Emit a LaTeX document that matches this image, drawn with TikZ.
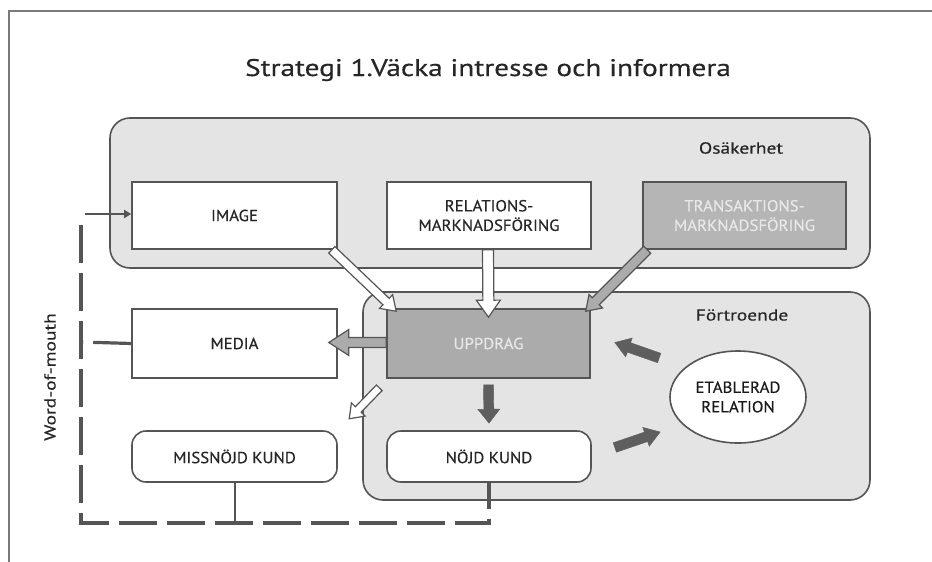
\documentclass[tikz,border=0pt]{standalone}
\usepackage{fontspec}
\setmainfont{PT Sans}
\newfontfamily\widefont{PT Sans}[FakeStretch=1.22, FakeBold=0.4]
\newfontfamily\capsfont{PT Sans}[FakeStretch=1.05, FakeBold=0.4]
\usetikzlibrary{calc,shapes.geometric,arrows.meta}

\definecolor{framegray}{HTML}{7A7A7A}
\definecolor{zonefill}{HTML}{E4E4E4}
\definecolor{linegray}{HTML}{555555}
\definecolor{darkfill}{HTML}{ABABAB}
\definecolor{palefont}{HTML}{E8E8E8}
\definecolor{arrowdark}{HTML}{5E5E5E}
\definecolor{textgray}{HTML}{262626}

% block arrow: style, tail, tip, half shaft width, half head width, head length
\newcommand\fatarrow[6]{%
  \coordinate (fahead) at ($(#3)!#6!(#2)$);
  \filldraw[#1] ($(#2)!#4!90:(#3)$) -- ($(fahead)!#4!-90:(#2)$)
    -- ($(fahead)!#5!-90:(#2)$) -- (#3) -- ($(fahead)!#5!90:(#2)$)
    -- ($(fahead)!#4!90:(#2)$) -- ($(#2)!#4!-90:(#3)$) -- cycle;
}

\begin{document}
\begin{tikzpicture}[x=1pt,y=-1pt,
  every node/.style={font=\capsfont\fontsize{16}{19.5}\selectfont, text=textgray},
  lower/.style={font=\widefont\fontsize{16}{19}\selectfont},
  zone/.style={draw=linegray, line width=1.6pt, fill=zonefill, rounded corners=20pt, inner sep=0pt},
  box/.style={draw=linegray, line width=1.6pt, fill=white, inner sep=0pt, align=center},
  darkbox/.style={box, fill=darkfill, text=palefont},
  roundbox/.style={box, rounded corners=14pt},
  whitearrow/.style={fill=white, draw=linegray, line width=1.2pt, line join=miter},
  grayarrow/.style={fill=darkfill, draw=linegray, line width=1.2pt, line join=miter},
  darkarrow/.style={fill=arrowdark, draw=arrowdark, line width=0.4pt},
  wom/.style={draw=linegray, line width=3.2pt},
  womdash/.style={wom, dash pattern=on 38pt off 10pt},
]
\useasboundingbox (0,0) rectangle (932,562);

% partial frame
\draw[framegray, line width=1.6pt] (932,11) -- (9,11) -- (9,562);

% title
\node[font=\widefont\fontsize{24}{28}\selectfont] (title) at (488,70) {Strategi 1.Väcka intresse och informera};

% the two zones
\node[zone, minimum width=760pt, minimum height=150pt] (osak) at (490,193) {};
\node[zone, minimum width=507pt, minimum height=208pt] (fort) at (616.5,396) {};
\node[lower] (osaklbl) at (741,148) {Osäkerhet};
\node[lower] (fortlbl) at (742,315) {Förtroende};

% boxes
\node[box, minimum width=205pt, minimum height=67pt] (image) at (234.5,215.5) {IMAGE};
\node[box, minimum width=204pt, minimum height=67pt] (rel) at (489,215.5) {RELATIONS-\\MARKNADSFÖRING};
\node[darkbox, fill=darkfill!88!white, minimum width=203pt, minimum height=67pt] (trans) at (744.5,215.5) {TRANSAKTIONS-\\MARKNADSFÖRING};
\node[darkbox, minimum width=203pt, minimum height=69pt] (uppdrag) at (488.5,343.5) {UPPDRAG};
\node[box, minimum width=205pt, minimum height=69pt] (media) at (234.5,343.5) {MEDIA};
\node[roundbox, minimum width=205pt, minimum height=51pt] (missnojd) at (234.5,456.5) {MISSNÖJD KUND};
\node[roundbox, minimum width=204pt, minimum height=51pt] (nojd) at (489,456.5) {NÖJD KUND};
\node[ellipse, draw=linegray, line width=1.6pt, fill=white, minimum width=136pt, minimum height=92pt, inner sep=0pt, align=center, text=black!90] (etab) at (738,397) {ETABLERAD\\RELATION};

% arrow end points
\coordinate (imgT) at ($(image.south east)+(-6,0)$);
\coordinate (imgH) at ($(uppdrag.north west)+(10,3)$);
\coordinate (relT) at ($(rel.south)+(-1,0)$);
\coordinate (relH) at ($(uppdrag.north)+(0,9)$);
\coordinate (trT) at ($(trans.south west)+(5,0)$);
\coordinate (trH) at ($(uppdrag.north east)+(-5,3)$);
\coordinate (medT) at ($(uppdrag.west)+(0,-1)$);
\coordinate (medH) at ($(media.east)+(-9,-1)$);
\coordinate (misT) at ($(uppdrag.south west)+(-7,9)$);
\coordinate (misH) at ($(uppdrag.south west)+(-37,40)$);
\coordinate (nojT) at ($(uppdrag.south)+(0,6)$);
\coordinate (nojH) at ($(nojd.north)+(0,-7)$);
\coordinate (etT) at ($(etab.west)+(-10,-39)$);
\coordinate (etH) at ($(uppdrag.east)+(24,-1)$);
\coordinate (njT) at ($(nojd.east)+(23,-9)$);
\coordinate (njH) at ($(etab.west)+(-9,35)$);

% block arrows
\fatarrow{whitearrow}{imgT}{imgH}{4.5pt}{9.5pt}{14pt}
\fatarrow{whitearrow}{relT}{relH}{5.5pt}{12pt}{17pt}
\fatarrow{grayarrow}{trT}{trH}{5pt}{9.5pt}{14pt}
\fatarrow{grayarrow}{medT}{medH}{5pt}{13pt}{20pt}
\fatarrow{whitearrow}{misT}{misH}{4pt}{9.5pt}{13pt}
\fatarrow{darkarrow}{nojT}{nojH}{5pt}{11pt}{14pt}
\fatarrow{darkarrow}{etT}{etH}{5pt}{10pt}{15pt}
\fatarrow{darkarrow}{njT}{njH}{5pt}{10pt}{15pt}

% word-of-mouth loop
\coordinate (wbr) at (489,523);
\coordinate (wbl) at (81,523);
\coordinate (wtop) at (81,222);
\coordinate (wmed) at (81,342);
\coordinate (warr) at (85,214);
\draw[womdash, dash phase=12pt] (nojd.south) -- (wbr) -- (wbl) -- (wtop);
\draw[womdash] (media.west) -- (wmed);
\draw[wom, line width=2pt] (missnojd.south) -- (missnojd.south |- wbr);
\draw[wom, line width=2.4pt, -{Triangle[length=7pt,width=8pt]}] (warr) -- (warr -| image.west);
\node[lower, rotate=90] (womlbl) at (50,377) {Word-of-mouth};
\end{tikzpicture}
\end{document}
